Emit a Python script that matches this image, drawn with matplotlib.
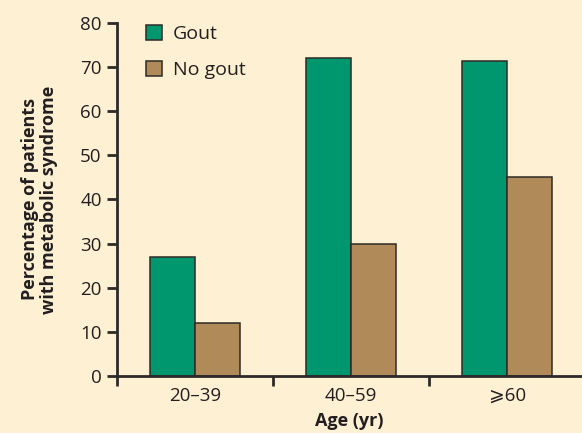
import matplotlib
matplotlib.use("Agg")
import matplotlib.pyplot as plt
import numpy as np

categories = ["20–39", "40–59", "⩾60"]
gout = [27, 72, 71.5]
no_gout = [12, 30, 45]
yticks = [0, 10, 20, 30, 40, 50, 60, 70, 80]

BG = "#FEF1D3"
GREEN = "#00966E"
BROWN = "#B08A58"
EDGE = "#2E2A28"
TXT = "#231F20"
FAM = ["Open Sans", "DejaVu Sans"]
plt.rcParams["font.family"] = FAM

fig = plt.figure(figsize=(5.82, 4.33), dpi=100, facecolor=BG)
ax = fig.add_axes([117/582, 1-376/433, 1-117/582, (376-23)/433], facecolor=BG)

x = np.arange(len(categories))
w = 0.29
ax.bar(x - w/2, gout, w, color=GREEN, edgecolor=EDGE, linewidth=1.1, label="Gout", zorder=3)
ax.bar(x + w/2, no_gout, w, color=BROWN, edgecolor=EDGE, linewidth=1.1, label="No gout", zorder=3)

ax.set_xlim(-0.5, 2.48)
ax.set_ylim(0, 80)
ax.set_yticks(yticks)
ax.set_xticks(x)
ax.set_xticklabels(categories)
ax.set_xticks([-0.5, 0.5, 1.5], minor=True)
ax.tick_params(axis="x", which="major", length=0, pad=8, labelsize=13.5, labelcolor=TXT)
ax.tick_params(axis="x", which="minor", length=7, width=2, color=EDGE, direction="out")
ax.tick_params(axis="y", length=7, width=2, color=EDGE, direction="out", pad=4, labelsize=13.5, labelcolor=TXT)

for s in ["top", "right"]:
    ax.spines[s].set_visible(False)
for s in ["left", "bottom"]:
    ax.spines[s].set_linewidth(2)
    ax.spines[s].set_color(EDGE)
    ax.spines[s].set_zorder(4)

ax.set_xlabel("Age (yr)", fontsize=13, fontweight="bold", color=TXT, labelpad=5)
ax.set_ylabel("Percentage of patients\nwith metabolic syndrome", fontsize=13, fontweight="bold",
              color=TXT, labelpad=16, linespacing=1.05)

leg = ax.legend(loc="upper left", bbox_to_anchor=(0.024, 1.045), frameon=False, fontsize=14,
                handlelength=0.85, handleheight=0.85, handletextpad=0.55, labelspacing=0.9,
                labelcolor=TXT, borderaxespad=0.5)

fig.savefig("out.png", dpi=100, facecolor=BG)
